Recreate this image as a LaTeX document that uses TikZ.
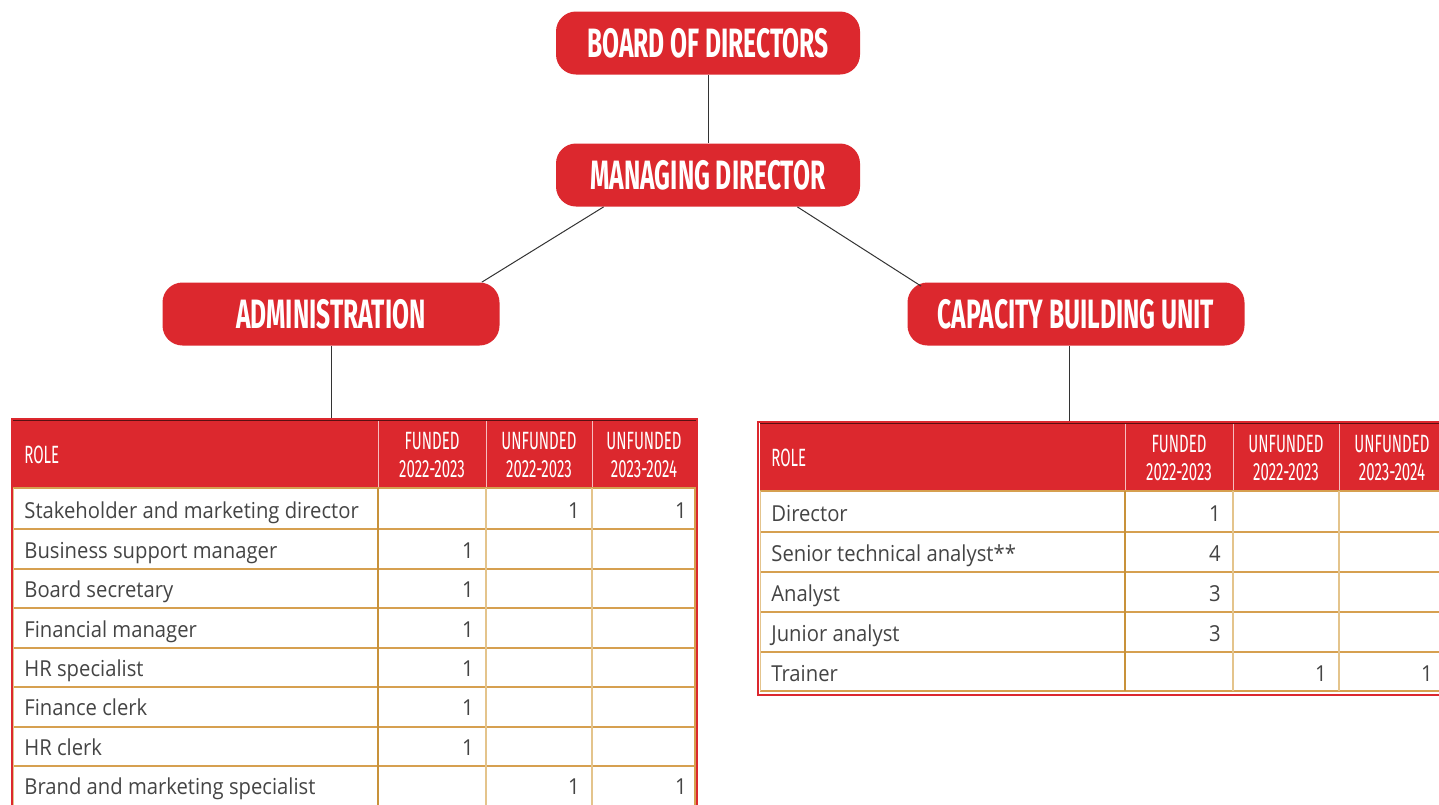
\documentclass[tikz,border=0pt]{standalone}
\usepackage{fontspec}
\setmainfont[FakeStretch=0.92]{Open Sans}
\newfontfamily\headfont[FakeStretch=0.6]{Fira Sans}
\usetikzlibrary{positioning}

\definecolor{brandred}{RGB}{220,40,46}
\definecolor{gridgold}{RGB}{214,160,80}
\definecolor{gridpale}{RGB}{228,196,140}
\definecolor{gridrule}{RGB}{200,146,58}
\definecolor{bodygray}{RGB}{68,68,68}

\tikzset{
  orgbox/.style={fill=brandred, rounded corners=10pt, text=white, inner sep=0pt,
    minimum width=152pt, minimum height=31.5pt,
    font=\headfont\bfseries\fontsize{20.5}{20.5}\selectfont},
  wideorg/.style={orgbox, minimum width=168.5pt},
  link/.style={draw=black!80, line width=0.5pt},
  headcell/.style={text=white, align=center, inner sep=0pt,
    font=\headfont\fontsize{12.5}{14}\selectfont},
  rolecell/.style={anchor=west, text=bodygray, inner sep=0pt,
    text height=9pt, text depth=2.5pt, font=\fontsize{11}{13}\selectfont},
  numcell/.style={rolecell, anchor=east},
}

\begin{document}
\begin{tikzpicture}[x=0.5pt, y=-0.5pt]
    \useasboundingbox (0,0) rectangle (1439,804);
    \clip (0,0) rectangle (1439,804);

    % org chart boxes
    \node[orgbox] (board) at (708,43) {BOARD OF DIRECTORS};
    \node[orgbox] (md) at (708,175) {MANAGING DIRECTOR};
    \node[wideorg] (admin) at (331,314) {ADMINISTRATION};
    \node[wideorg] (cbu) at (1076,314) {CAPACITY BUILDING UNIT};
    \coordinate (admtop) at (331,418);
    \coordinate (cbutop) at (1069,421);

    \draw[link] (board) -- (md);
    \draw[link] ([xshift=24pt]md.south west) -- ([xshift=-9pt]admin.north east);
    \draw[link] ([xshift=-31.5pt]md.south east) -- ([xshift=7pt,yshift=-2pt]cbu.north west);
    \draw[link] (admin) -- (admtop);
    \draw[link] (cbu.south -| cbutop) -- (cbutop);

    % administration table
    \draw[brandred, line width=1pt] (11.5,418.5) rectangle (697,830);
    \fill[brandred] (13,420) rectangle (696,488);
    \draw[black!60!brandred, line width=0.6pt] (13,420.5) -- (696,420.5);
    \foreach \x in {378,486,592} \draw[white!70!brandred, line width=0.5pt] (\x,421) -- (\x,488);
    \foreach \y in {488,529,569,608,648,687,727,766} \draw[gridgold, line width=1pt] (13,\y) -- (696,\y);
    \foreach \x in {486,592} \draw[gridpale, line width=0.8pt] (\x,488) -- (\x,830);
    \draw[gridpale, line width=0.6pt] (13.5,488) -- (13.5,830);
    \draw[gridgold, line width=0.8pt] (695,488) -- (695,830);
    \draw[gridrule, line width=1.3pt] (378,488) -- (378,830);

    \node[headcell, anchor=west] (admhead0) at (24,455) {ROLE};
    \foreach \x/\lab [count=\i] in {432/{FUNDED\\2022-2023}, 539/{UNFUNDED\\2022-2023}, 644/{UNFUNDED\\2023-2024}}
        \node[headcell] (admhead\i) at (\x,455) {\lab};
    \foreach \y/\lab [count=\i] in {511.5/{Stakeholder and marketing director}, 551.5/{Business support manager},
        590.5/{Board secretary}, 630.5/{Financial manager}, 669.5/{HR specialist}, 708.5/{Finance clerk},
        748.5/{HR clerk}, 787.5/{Brand and marketing specialist}}
        \node[rolecell] (admrole\i) at (24,\y) {\lab};
    \foreach \x/\y [count=\i] in {580/511.5, 687/511.5, 474/551.5, 474/590.5, 474/630.5, 474/669.5,
        474/708.5, 474/748.5, 580/787.5, 687/787.5}
        \node[numcell] (admnum\i) at (\x,\y) {1};

    % capacity building table
    \draw[brandred, line width=1pt] (757.5,421.5) rectangle (1460,694.5);
    \fill[brandred] (760,423) rectangle (1460,491);
    \draw[black!60!brandred, line width=0.6pt] (760,423.5) -- (1460,423.5);
    \foreach \x in {1125,1233,1339} \draw[white!70!brandred, line width=0.5pt] (\x,424) -- (\x,491);
    \foreach \y in {491,532,572,612,652,691} \draw[gridgold, line width=1pt] (760,\y) -- (1460,\y);
    \foreach \x in {1233,1339} \draw[gridpale, line width=0.8pt] (\x,491) -- (\x,691);
    \draw[gridpale, line width=0.6pt] (760.5,491) -- (760.5,691);
    \draw[gridrule, line width=1.3pt] (1125,491) -- (1125,691);

    \node[headcell, anchor=west] (cbuhead0) at (771,458) {ROLE};
    \foreach \x/\lab [count=\i] in {1179/{FUNDED\\2022-2023}, 1286/{UNFUNDED\\2022-2023}, 1392/{UNFUNDED\\2023-2024}}
        \node[headcell] (cbuhead\i) at (\x,458) {\lab};
    \foreach \y/\lab [count=\i] in {514.5/Director, 554.5/{Senior technical analyst**}, 594.5/Analyst,
        634.5/{Junior analyst}, 674.5/Trainer}
        \node[rolecell] (cburole\i) at (771,\y) {\lab};
    \foreach \x/\y/\n [count=\i] in {1221/514.5/1, 1221/554.5/4, 1221/594.5/3, 1221/634.5/3, 1327/674.5/1, 1433/674.5/1}
        \node[numcell] (cbunum\i) at (\x,\y) {\n};
\end{tikzpicture}
\end{document}
